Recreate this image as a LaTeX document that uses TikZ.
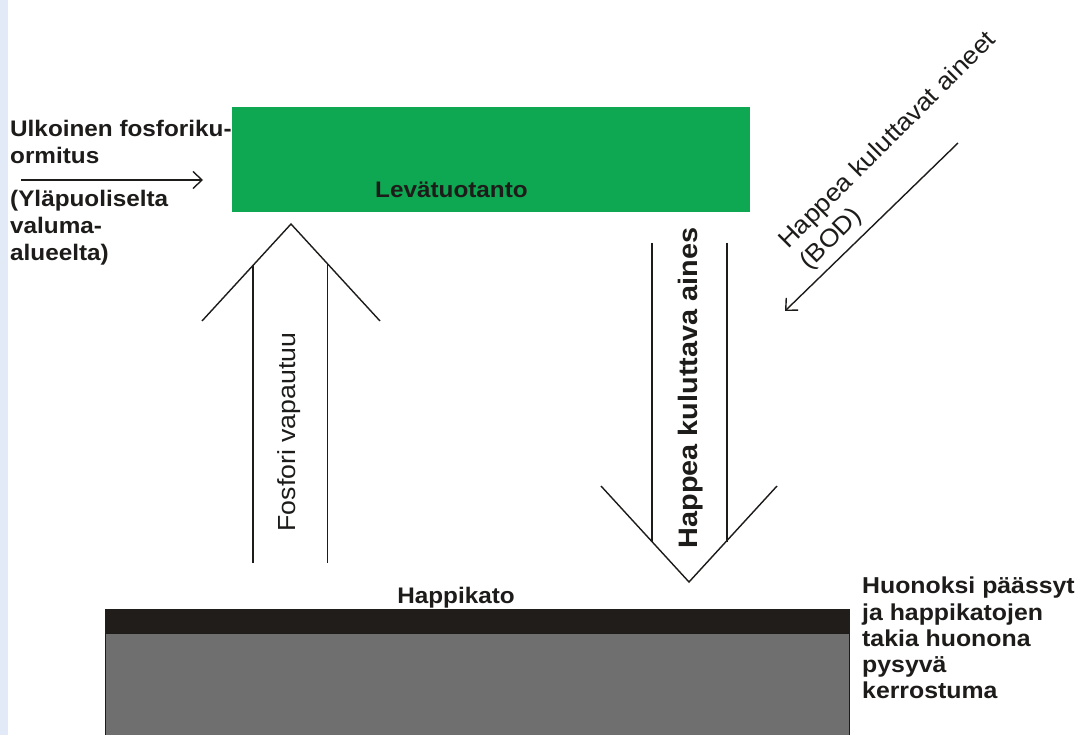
\documentclass[tikz,border=0pt]{standalone}
\usepackage{fontspec}
\setmainfont{Liberation Sans}[FakeStretch=1.08]
\usetikzlibrary{arrows.meta}
\definecolor{algae}{RGB}{14,167,82}
\definecolor{sedgray}{RGB}{111,111,111}
\definecolor{anoxic}{RGB}{33,29,26}
\definecolor{stripblue}{RGB}{226,234,247}
\definecolor{ink}{RGB}{30,28,26}
\begin{document}
\begin{tikzpicture}[x=1pt,y=-1pt,
  lbl/.style={font=\bfseries\fontsize{22.5}{27}\selectfont, inner sep=0pt, text=ink},
  sidelbl/.style={font=\bfseries\fontsize{23}{27}\selectfont, inner sep=0pt, text=ink, anchor=base west},
  reglbl/.style={font=\fontsize{24.7}{29}\selectfont, inner sep=0pt, text=ink},
  bigarrow/.style={draw=ink, line width=1.4pt, line cap=butt, line join=miter},
  flow/.style={draw=ink, line width=1.4pt, -{Straight Barb[length=9pt,width=17pt,line width=1.4pt]}}
]
\useasboundingbox (0,0) rectangle (1090,735);
\fill[white] (0,0) rectangle (1090,735);
\fill[stripblue] (0,0) rectangle (8,735);

% algae production box
\node[fill=algae, minimum width=518pt, minimum height=105pt, inner sep=0pt, anchor=north west] (algae) at (232,107) {};
\node[lbl, anchor=base west] (prod) at (375,198) {Levätuotanto};

% external load text
\node[lbl, anchor=base west] (ext1) at (10,137) {Ulkoinen fosforiku-};
\node[lbl, anchor=base west] (ext2) at (10,164) {ormitus};
\node[lbl, anchor=base west] (ext3) at (10,207) {(Yläpuoliselta};
\node[lbl, anchor=base west] (ext4) at (10,234) {valuma-};
\node[lbl, anchor=base west] (ext5) at (10,261) {alueelta)};
\coordinate (extstart) at (21,180);
\coordinate (extend) at (203,180);
\draw[flow] (extstart) -- (extend);

% BOD arrow
\node[reglbl, anchor=base west, rotate=45] (bod1) at (788,250) {Happea kuluttavat aineet};
\node[reglbl, anchor=base west, rotate=45] (bod2) at (809,271) {(BOD)};
\coordinate (bodstart) at (958,143);
\coordinate (bodend) at (785,311);
\draw[flow] (bodstart) -- (bodend);

% phosphorus release arrow (up)
\coordinate (uptip) at (291,224);
\coordinate (upl) at (202,321);
\coordinate (upr) at (380,321);
\draw[bigarrow] (upl) -- (uptip) -- (upr);
\draw[bigarrow] (253,265.4) -- (253,563);
\draw[bigarrow] (327.5,263.7) -- (327.5,563);
\node[reglbl, anchor=base, rotate=90] (prel) at (295,432) {Fosfori vapautuu};

% oxygen-consuming matter arrow (down)
\coordinate (dntip) at (689,582);
\coordinate (dnl) at (601,486);
\coordinate (dnr) at (777,486);
\draw[bigarrow] (dnl) -- (dntip) -- (dnr);
\draw[bigarrow] (652,243) -- (652,541.6);
\draw[bigarrow] (727,243) -- (727,541.6);
\node[font=\bfseries\fontsize{26.7}{30}\selectfont, inner sep=0pt, text=ink, anchor=base, rotate=90] (oxm) at (697,388) {Happea kuluttava aines};

% sediment
\fill[anoxic] (105,609) rectangle (850,633);
\filldraw[fill=sedgray, draw=ink, line width=0.8pt] (105.4,633) rectangle (849.6,740);
\node[lbl, anchor=base] (anox) at (456,603) {Happikato};

% right text
\node[sidelbl] (r1) at (862,593) {Huonoksi päässyt};
\node[sidelbl] (r2) at (862,620) {ja happikatojen};
\node[sidelbl] (r3) at (862,646) {takia huonona};
\node[sidelbl] (r4) at (862,672) {pysyvä};
\node[sidelbl] (r5) at (862,698) {kerrostuma};
\end{tikzpicture}
\end{document}
